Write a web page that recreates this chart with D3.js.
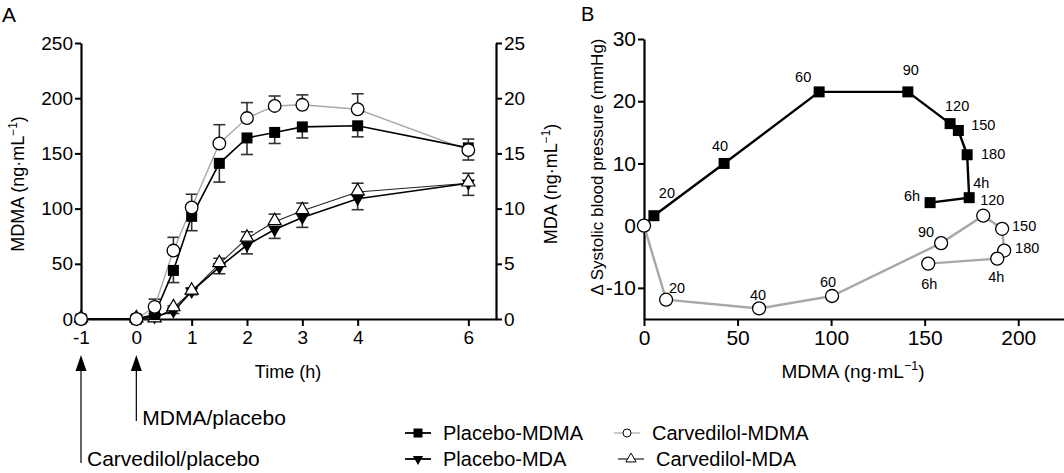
<!DOCTYPE html>
<html><head><meta charset="utf-8">
<script src="https://cdn.jsdelivr.net/npm/d3@7"></script>
<style>
body{margin:0;background:#fff;}
svg{display:block;font-family:"Liberation Sans",Arial,Helvetica,sans-serif;}
</style></head>
<body><svg id="c" width="1064" height="473"></svg>
<script>
// ---------- DATA ----------
const timesA = [-1, 0, 0.33, 0.67, 1, 1.5, 2, 2.5, 3, 4, 6];
const placeboMDMA     = [0, 0, 4, 44, 93, 141, 164, 169, 174, 175, 155];
const placeboMDMAerr  = [0, 0, 2, 11, 13, 17, 15, 10, 10, 10, 11];
const carvMDMA        = [0, 0, 11, 62, 101, 159, 182, 193, 194, 190, 153];
const carvMDMAerr     = [0, 0, 7, 12, 12, 17, 14, 9, 9, 14, 10];
const placeboMDA      = [0, 0, 0.2, 0.7, 2.5, 4.7, 6.7, 8.1, 9.2, 10.9, 12.3];
const placeboMDAerr   = [0, 0, 0, 0.2, 0.3, 0.6, 0.8, 0.8, 0.9, 1.0, 1.1];
const carvMDA         = [0, 0, 0, 1.0, 2.5, 5.0, 7.3, 8.8, 9.8, 11.5, 12.3];
const carvMDAerr      = [0, 0, 0, 0.2, 0.3, 0.5, 0.6, 0.7, 0.7, 0.8, 0.9];
const xTicksA = [-1, 0, 1, 2, 3, 4, 6];
const yTicksA = [0, 50, 100, 150, 200, 250];
const y2TicksA = [0, 5, 10, 15, 20, 25];

const labelsB = ["", "20", "40", "60", "90", "120", "150", "180", "4h", "6h"];
const placeboBx = [0, 5.3, 42.8, 93.6, 141, 163.6, 168, 172.7, 173.8, 152.9];
const placeboBy = [0, 1.6, 10.0, 21.5, 21.5, 16.4, 15.3, 11.4, 4.5, 3.7];
const carvBx    = [0, 11.8, 61.5, 100.5, 158.8, 181.3, 191.4, 192.5, 188.8, 151.9];
const carvBy    = [0, -11.9, -13.3, -11.3, -2.8, 1.6, -0.5, -4.0, -5.3, -6.1];
const xTicksB = [0, 50, 100, 150, 200];
const yTicksB = [-10, 0, 10, 20, 30];

// ---------- LAYOUT ----------
const svg = d3.select("#c");
const FS = 18;
const gray = "#a8a8a8";

// label offsets (px) for panel B annotations
const offP = [[0,0],[13,-23],[-4,-17],[-16,-15],[3,-22],[7,-18],[25,-5],[26,-1],[12,-15],[-18,-7]];
const offC = [[0,0],[11,-12],[-1,-13],[-4,-14],[-15,-11],[9,-16],[22,-3],[23,-3],[-1,18],[1,20]];

// ===== Panel A =====
const xA = d3.scaleLinear().domain([-1, 6.5]).range([81, 496]);
const yA = d3.scaleLinear().domain([0, 250]).range([319, 43]);
const yA2 = d3.scaleLinear().domain([0, 25]).range([319, 43]);

function styleAxis(g, fs){
  g.selectAll("path.domain").attr("stroke","#000").attr("stroke-width",2.2);
  g.selectAll(".tick line").attr("stroke","#000").attr("stroke-width",2);
  g.selectAll(".tick text").attr("font-size",fs).attr("fill","#000")
    .attr("font-family",'"Liberation Sans",Arial,sans-serif');
}
const fmt = d => String(d);

const gA = svg.append("g");
gA.append("g").attr("transform","translate(0,319)")
  .call(d3.axisBottom(xA).tickValues(xTicksA).tickSize(7).tickSizeOuter(0).tickPadding(5).tickFormat(fmt))
  .call(g=>styleAxis(g,FS+1));
gA.append("g").attr("transform","translate(81,0)")
  .call(d3.axisLeft(yA).tickValues(yTicksA).tickSize(6).tickSizeOuter(0).tickPadding(2).tickFormat(fmt))
  .call(g=>styleAxis(g,FS+1));
gA.append("g").attr("transform","translate(496,0)")
  .call(d3.axisRight(yA2).tickValues(y2TicksA).tickSize(6).tickSizeOuter(0).tickPadding(2).tickFormat(fmt))
  .call(g=>styleAxis(g,FS+1));

// axis titles
function unitTitle(g, pre, fs){
  const t = g.append("text").attr("font-size",fs).attr("fill","#000").attr("text-anchor","middle");
  t.append("tspan").text(pre + " (ng\u00B7mL");
  t.append("tspan").attr("font-size",fs*0.66).attr("dy",-fs*0.4).text("\u2212");
  t.append("tspan").attr("font-size",fs*0.66).text("1");
  t.append("tspan").attr("dy",fs*0.4).text(")");
  return t;
}
unitTitle(gA,"MDMA",18).attr("transform","translate(24,184) rotate(-90)");
unitTitle(gA,"MDA",18).attr("transform","translate(557,184) rotate(-90)");
gA.append("text").attr("x",288).attr("y",378).attr("text-anchor","middle")
  .attr("font-size",18).text("Time (h)");
svg.append("text").attr("x",2).attr("y",22).attr("font-size",21).text("A");

// series
const idx = d3.range(timesA.length);
function lineA(vals, y){ return d3.line().x(i=>xA(timesA[i])).y(i=>y(vals[i]))(idx); }
function errBars(vals, errs, y, dir){
  idx.forEach(i=>{
    if(!errs[i]) return;
    const x = xA(timesA[i]);
    const y0 = y(vals[i]), y1 = y(vals[i] + dir*errs[i]);
    if (Math.abs(y1-y0) < 1) return;
    gA.append("line").attr("x1",x).attr("x2",x).attr("y1",y0).attr("y2",y1).attr("stroke","#333").attr("stroke-width",1.6);
    gA.append("line").attr("x1",x-6).attr("x2",x+6).attr("y1",y1).attr("y2",y1).attr("stroke","#333").attr("stroke-width",1.6);
  });
}
errBars(placeboMDMA, placeboMDMAerr, yA, -1);
errBars(carvMDMA, carvMDMAerr, yA, 1);
errBars(placeboMDA, placeboMDAerr, yA2, -1);
errBars(carvMDA, carvMDAerr, yA2, 1);

gA.append("path").attr("d",lineA(carvMDMA,yA)).attr("fill","none").attr("stroke",gray).attr("stroke-width",1.4);
gA.append("path").attr("d",lineA(placeboMDMA,yA)).attr("fill","none").attr("stroke","#000").attr("stroke-width",1.6);
gA.append("path").attr("d",lineA(carvMDA,yA2)).attr("fill","none").attr("stroke","#222").attr("stroke-width",1.1);
gA.append("path").attr("d",lineA(placeboMDA,yA2)).attr("fill","none").attr("stroke","#000").attr("stroke-width",1.6);

// MDA markers
gA.selectAll(null).data(idx).join("path")
  .attr("d", d3.symbol().type(d3.symbolTriangle).size(75)())
  .attr("transform", i=>`translate(${xA(timesA[i])},${yA2(placeboMDA[i])}) rotate(180)`)
  .attr("fill","#000");
gA.selectAll(null).data(idx).join("path")
  .attr("d", d3.symbol().type(d3.symbolTriangle).size(75)())
  .attr("transform", i=>`translate(${xA(timesA[i])},${yA2(carvMDA[i])-1})`)
  .attr("fill","#fff").attr("stroke","#000").attr("stroke-width",1.2);
// MDMA markers
gA.selectAll(null).data(idx).join("rect")
  .attr("x", i=>xA(timesA[i])-5.5).attr("y", i=>yA(placeboMDMA[i])-5.5)
  .attr("width",11).attr("height",11).attr("fill","#000");
gA.selectAll(null).data(idx).join("circle")
  .attr("cx", i=>xA(timesA[i])).attr("cy", i=>yA(carvMDMA[i])).attr("r",6.3)
  .attr("fill","#fff").attr("stroke","#000").attr("stroke-width",1.3);

// dosing arrows
function arrow(xv, yBottom, label, ly){
  const x = xA(xv);
  gA.append("line").attr("x1",x).attr("x2",x).attr("y1",yBottom).attr("y2",368).attr("stroke","#000").attr("stroke-width",1.2);
  gA.append("path").attr("d",`M${x},355 L${x-5.5},371 L${x+5.5},371 Z`).attr("fill","#000");
  gA.append("text").attr("x",x+6).attr("y",ly).attr("font-size",21).attr("dominant-baseline","central").text(label);
}
arrow(-1, 463, "Carvedilol/placebo", 458);
arrow(0, 421, "MDMA/placebo", 417);

// ===== Panel B =====
const xB = d3.scaleLinear().domain([0, 225]).range([644, 1065]);
const yB = d3.scaleLinear().domain([-15, 30]).range([319, 39]);
const gB = svg.append("g");
gB.append("g").attr("transform","translate(0,319)")
  .call(d3.axisBottom(xB).tickValues(xTicksB).tickSize(7).tickSizeOuter(0).tickPadding(4).tickFormat(fmt))
  .call(g=>styleAxis(g,21));
gB.append("g").attr("transform","translate(644,0)")
  .call(d3.axisLeft(yB).tickValues(yTicksB).tickSize(6).tickSizeOuter(0).tickPadding(2).tickFormat(fmt))
  .call(g=>styleAxis(g,21));
unitTitle(gB,"MDMA",19).attr("transform","translate(853,378)");
gB.append("text").attr("transform","translate(597,167) rotate(-90)").attr("text-anchor","middle")
  .attr("dominant-baseline","central").attr("font-size",17).text("\u0394 Systolic blood pressure (mmHg)");
svg.append("text").attr("x",581).attr("y",21).attr("font-size",20).text("B");

const idxB = d3.range(labelsB.length);
gB.append("path").attr("d", d3.line().x(i=>xB(carvBx[i])).y(i=>yB(carvBy[i]))(idxB))
  .attr("fill","none").attr("stroke",gray).attr("stroke-width",2.4);
gB.append("path").attr("d", d3.line().x(i=>xB(placeboBx[i])).y(i=>yB(placeboBy[i]))(idxB))
  .attr("fill","none").attr("stroke","#000").attr("stroke-width",2.4);
gB.selectAll(null).data(idxB.slice(1)).join("rect")
  .attr("x", i=>xB(placeboBx[i])-5.5).attr("y", i=>yB(placeboBy[i])-5.5)
  .attr("width",11).attr("height",11).attr("fill","#000");
gB.selectAll(null).data(idxB).join("circle")
  .attr("cx", i=>xB(carvBx[i])).attr("cy", i=>yB(carvBy[i])).attr("r",6.5)
  .attr("fill","#fff").attr("stroke","#000").attr("stroke-width",1.3);
gB.selectAll(null).data(idxB.slice(1)).join("text")
  .attr("x", i=>xB(placeboBx[i])+offP[i][0]).attr("y", i=>yB(placeboBy[i])+offP[i][1])
  .attr("text-anchor","middle").attr("dominant-baseline","central").attr("font-size",14.5)
  .text(i=>labelsB[i]);
gB.selectAll(null).data(idxB.slice(1)).join("text")
  .attr("x", i=>xB(carvBx[i])+offC[i][0]).attr("y", i=>yB(carvBy[i])+offC[i][1])
  .attr("text-anchor","middle").attr("dominant-baseline","central").attr("font-size",14.5)
  .text(i=>labelsB[i]);

// ===== Legend =====
const legend = [
  {name:"Placebo-MDMA", x:405, y:433, stroke:"#000", mk:"sq"},
  {name:"Carvedilol-MDMA", x:614, y:433, stroke:gray, mk:"ci"},
  {name:"Placebo-MDA", x:405, y:459, stroke:"#000", mk:"td"},
  {name:"Carvedilol-MDA", x:618, y:459, stroke:"#222", mk:"tu"}
];
const gL = svg.append("g");
legend.forEach(d=>{
  const w = 26;
  gL.append("line").attr("x1",d.x).attr("x2",d.x+w).attr("y1",d.y).attr("y2",d.y)
    .attr("stroke",d.stroke).attr("stroke-width",d.mk==="ci"||d.mk==="tu"?1.2:1.8);
  const cx = d.x + w/2;
  if(d.mk==="sq") gL.append("rect").attr("x",cx-4.5).attr("y",d.y-4.5).attr("width",9).attr("height",9).attr("fill","#000");
  if(d.mk==="ci") gL.append("circle").attr("cx",cx).attr("cy",d.y).attr("r",4).attr("fill","#fff").attr("stroke","#000").attr("stroke-width",1);
  if(d.mk==="td") gL.append("path").attr("d",d3.symbol().type(d3.symbolTriangle).size(45)()).attr("transform",`translate(${cx},${d.y}) rotate(180)`).attr("fill","#000");
  if(d.mk==="tu") gL.append("path").attr("d",d3.symbol().type(d3.symbolTriangle).size(45)()).attr("transform",`translate(${cx},${d.y})`).attr("fill","#fff").attr("stroke","#000").attr("stroke-width",1);
  gL.append("text").attr("x", d.x + w + 12).attr("y", d.y).attr("dominant-baseline","central")
    .attr("font-size",20).text(d.name);
});
</script></body></html>
